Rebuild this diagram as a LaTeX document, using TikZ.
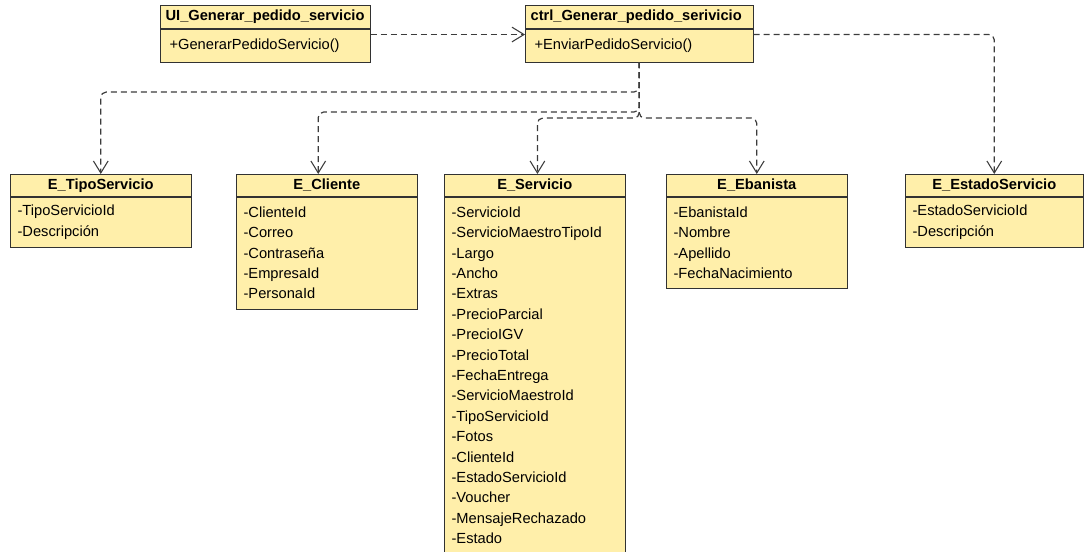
\documentclass[tikz,border=0pt]{standalone}
\usepackage{fontspec}
\setmainfont{Liberation Sans}
\usetikzlibrary{arrows.meta}
\definecolor{classfill}{RGB}{255,239,170}
\definecolor{classline}{RGB}{50,50,50}
\definecolor{depline}{RGB}{60,60,60}

\begin{document}
\begin{tikzpicture}[x=0.75pt, y=-0.75pt,
        every node/.style={font=\fontsize{11}{15.3}\selectfont},
        head/.style={draw=classline, fill=classfill, anchor=north west, inner sep=0pt,
            minimum width=#1, minimum height=16.5pt, font=\fontsize{11}{15.3}\selectfont\bfseries},
        lefthead/.style={draw=classline, fill=classfill, anchor=north west, inner xsep=4pt, inner ysep=0pt,
            text width=#1, align=left, minimum height=17.25pt, font=\fontsize{11}{15.3}\selectfont\bfseries},
        attrs/.style 2 args={draw=classline, fill=classfill, anchor=north west, inner xsep=5.5pt, inner ysep=3.75pt,
            text width=#1, align=left, minimum height=#2},
        dep/.style={draw=depline, line width=0.9pt, dash pattern=on 4.5pt off 3pt, rounded corners=4pt,
            -{Straight Barb[length=9pt, width=11pt, line width=0.8pt]}}]
        \useasboundingbox (0,0) rectangle (1088,552);

        \node[lefthead=149.5pt] (ui) at (160,5) {UI\_Generar\_pedido\_servicio};
        \node[attrs={143.5pt}{24.75pt}, inner xsep=7pt] (uibody) at (ui.south west) {+GenerarPedidoServicio()};
        \node[lefthead=163pt] (ctrl) at (525,5) {ctrl\_Generar\_pedido\_serivicio};
        \node[attrs={157pt}{24.75pt}, inner xsep=7pt] (ctrlbody) at (ctrl.south west) {+EnviarPedidoServicio()};

        \node[head=135.75pt] (tipo) at (10,174) {E\_TipoServicio};
        \node[attrs={124.75pt}{38.1pt}] (tipobody) at (tipo.south west) {-TipoServicioId\\-Descripción};

        \node[head=135.75pt] (cliente) at (236,174) {E\_Cliente};
        \node[attrs={124.75pt}{84pt}] (clientebody) at (cliente.south west)
            {-ClienteId\\-Correo\\-Contraseña\\-EmpresaId\\-PersonaId};

        \node[head=135.75pt] (servicio) at (444,174) {E\_Servicio};
        \node[attrs={124.75pt}{267.6pt}] (serviciobody) at (servicio.south west)
            {-ServicioId\\-ServicioMaestroTipoId\\-Largo\\-Ancho\\-Extras\\-PrecioParcial\\-PrecioIGV\\-PrecioTotal\\
             -FechaEntrega\\-ServicioMaestroId\\-TipoServicioId\\-Fotos\\-ClienteId\\-EstadoServicioId\\-Voucher\\
             -MensajeRechazado\\-Estado};

        \node[head=135.75pt] (ebanista) at (666,174) {E\_Ebanista};
        \node[attrs={124.75pt}{68.7pt}] (ebanistabody) at (ebanista.south west)
            {-EbanistaId\\-Nombre\\-Apellido\\-FechaNacimiento};

        \node[head=133.5pt] (estado) at (905,174) {E\_EstadoServicio};
        \node[attrs={122.5pt}{38.1pt}] (estadobody) at (estado.south west) {-EstadoServicioId\\-Descripción};

        \draw[dep] ([yshift=-4.5pt]uibody.north east) -- ([yshift=-4.5pt]ctrlbody.north west);
        \draw[dep] ([yshift=-4.5pt]ctrlbody.north east) -| (estado.north);
        \draw[dep] (ctrlbody.south) -- ++(0,30) -| (tipo.north);
        \draw[dep] (ctrlbody.south) -- ++(0,50) -| ([xshift=-6.4pt]cliente.north);
        \draw[dep] (ctrlbody.south) -- ++(0,56) -| ([xshift=2pt]servicio.north);
        \draw[dep] (ctrlbody.south) -- ++(0,56) -| (ebanista.north);
    \end{tikzpicture}
\end{document}
